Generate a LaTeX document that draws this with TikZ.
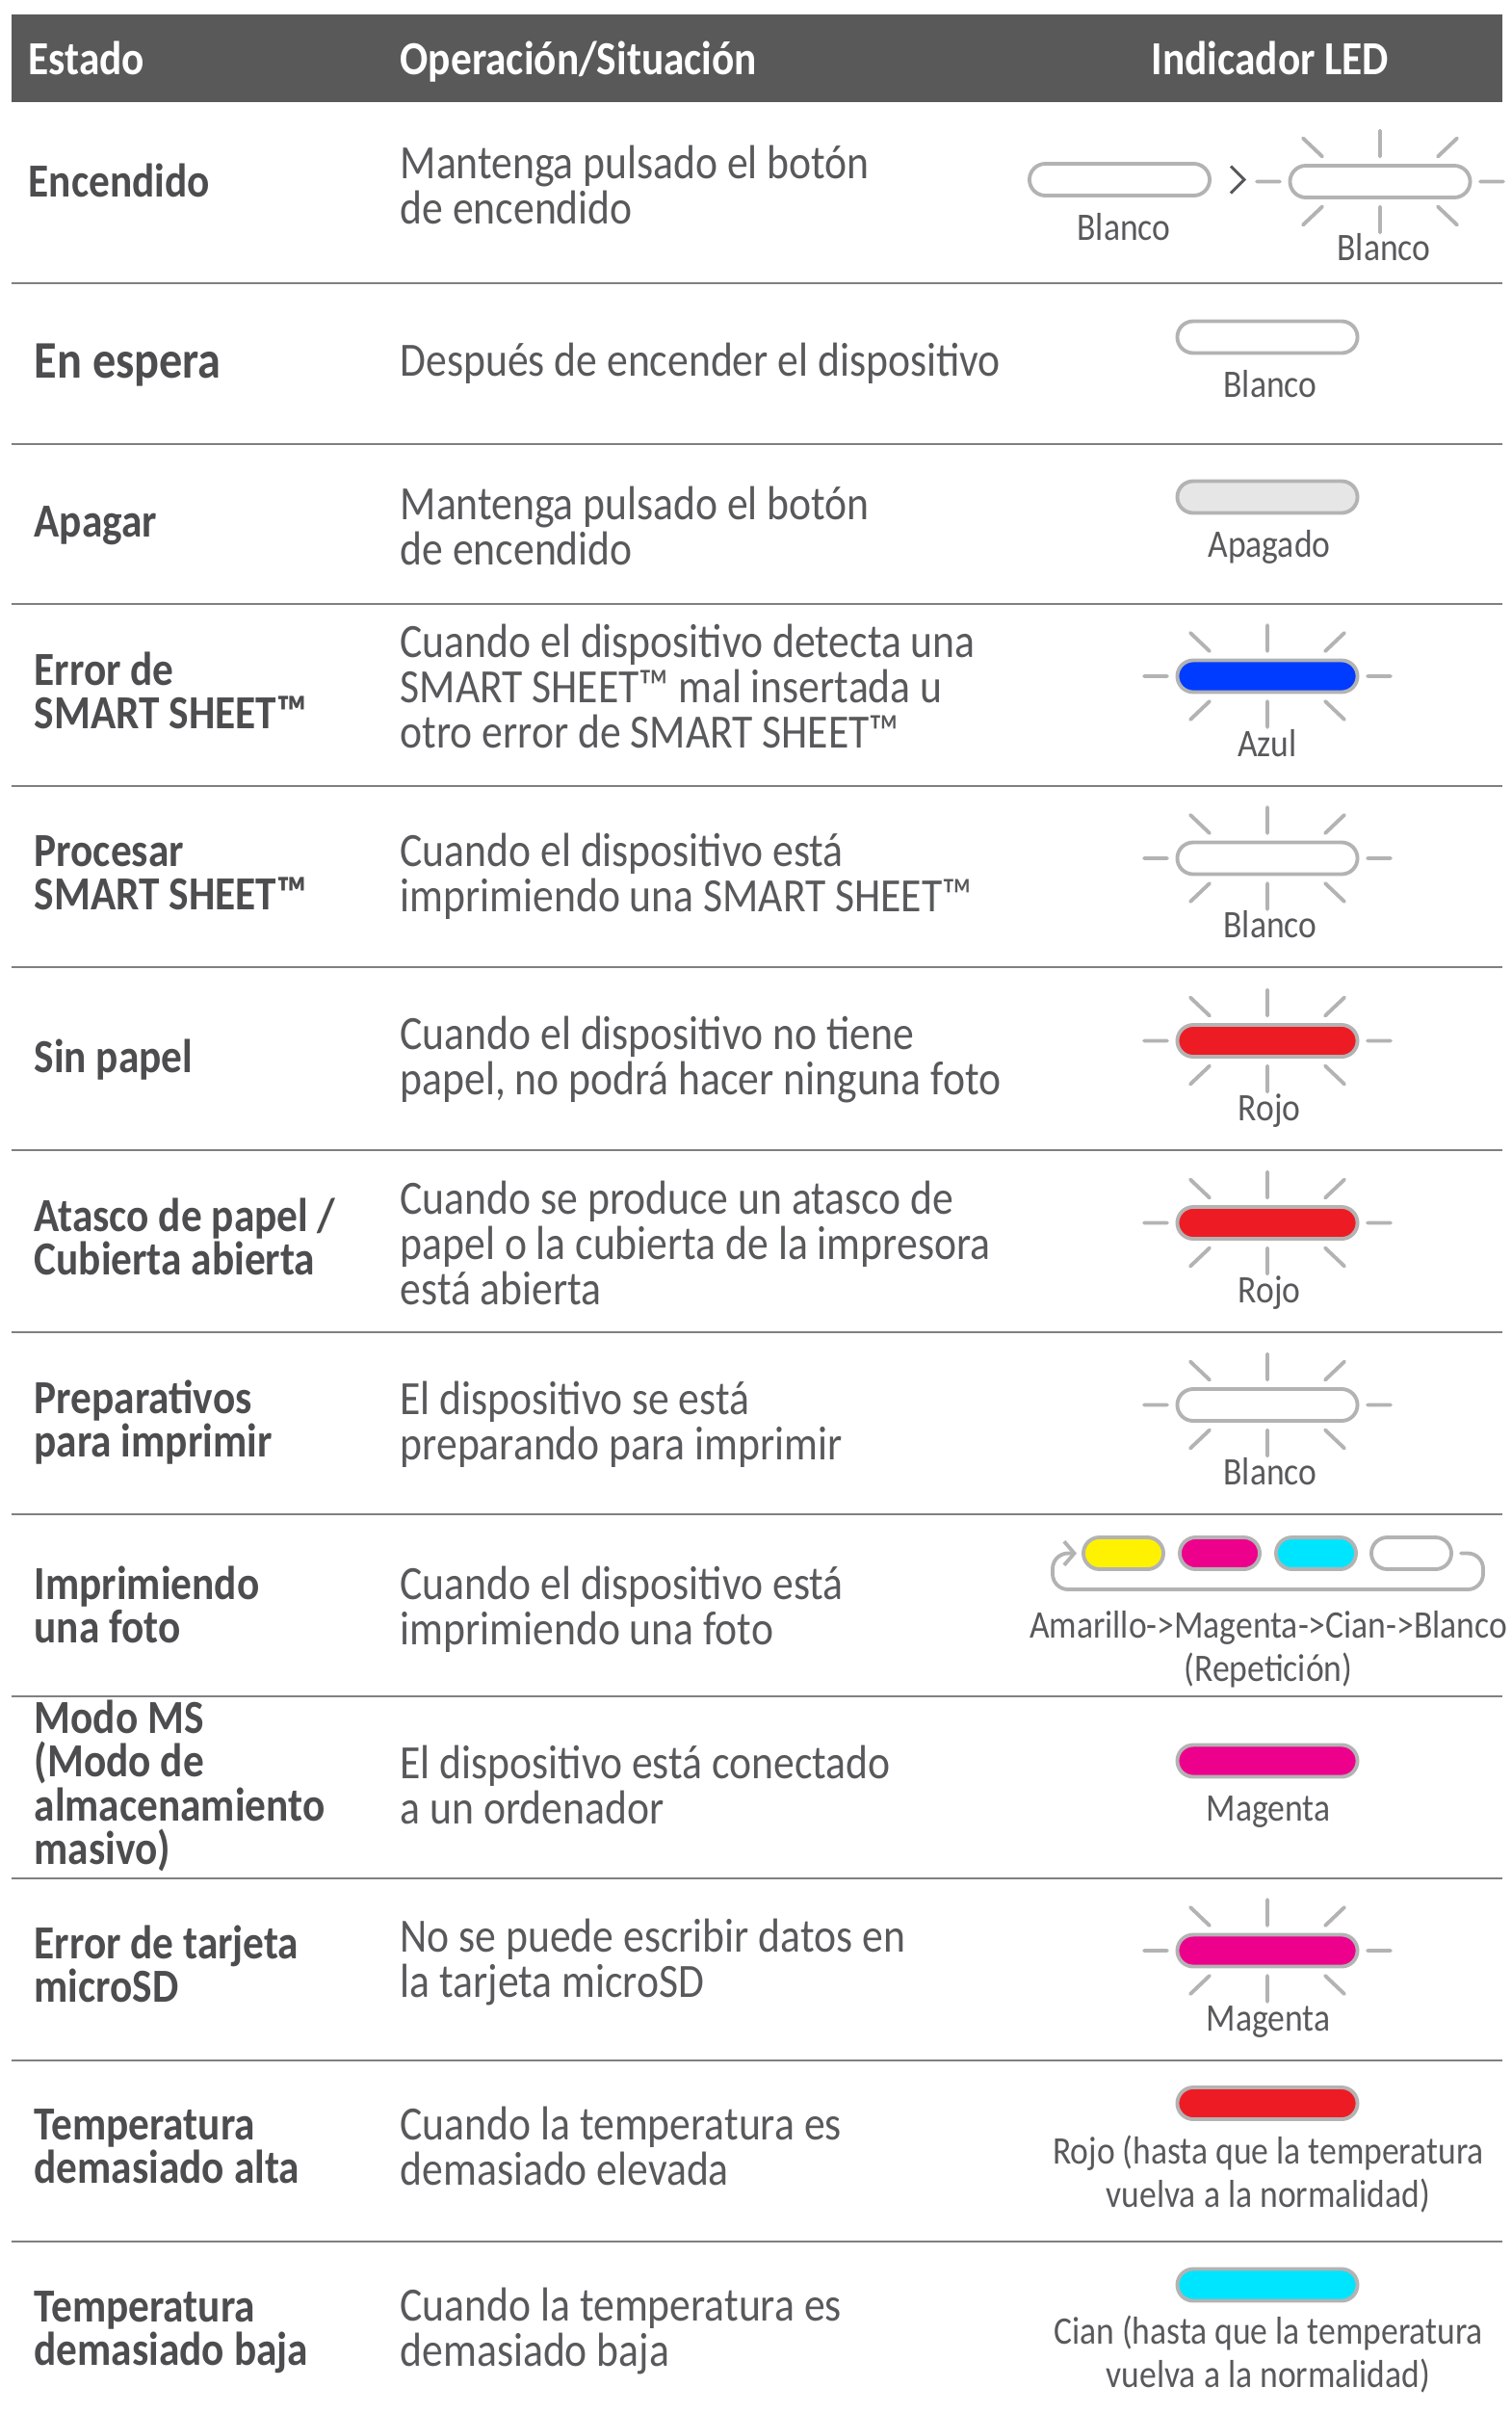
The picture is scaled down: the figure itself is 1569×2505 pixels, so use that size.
\documentclass[tikz,border=0pt]{standalone}
\usepackage{fontspec}
\setmainfont{Carlito}[FakeStretch=0.88]
\usetikzlibrary{arrows.meta}
\definecolor{hdr}{HTML}{595959}
\definecolor{txt}{HTML}{58595B}
\definecolor{statetxt}{HTML}{4D4D4F}
\definecolor{rulegray}{HTML}{808080}
\definecolor{ledgray}{HTML}{B3B3B3}
\definecolor{ledblue}{HTML}{003CFF}
\definecolor{ledred}{HTML}{ED1C24}
\definecolor{ledmag}{HTML}{EC008C}
\definecolor{ledcyan}{HTML}{00E5FF}
\definecolor{ledyel}{HTML}{FFF200}
\definecolor{ledoff}{HTML}{E6E6E6}

\begin{document}
\begin{tikzpicture}[x=0.01cm, y=-0.01cm,
  head/.style={anchor=base west, inner sep=0, text=white, font=\fontsize{14}{13}\selectfont\bfseries},
  state/.style={anchor=base west, inner sep=0, align=left, text=statetxt, font=\fontsize{14}{12.8}\selectfont\bfseries},
  oper/.style={anchor=base west, inner sep=0, align=left, text=txt, font=\fontsize{14.1}{13.3}\selectfont},
  tag/.style={anchor=base, inner sep=0, align=center, text=txt, font=\fontsize{11.5}{12.8}\selectfont},
  sep/.style={rulegray, line width=0.7pt},
  pill/.style={draw=ledgray, fill=white, line width=1.1pt, rounded corners=0.165cm, minimum width=1.87cm, minimum height=0.33cm, inner sep=0},
  dot/.style={pill, minimum width=0.83cm},
  ray/.style={ledgray, line width=1.1pt, line cap=round},
  rays/.pic={
    \draw[ray] (-128,0) -- (-104,0) (104,0) -- (128,0)
      (0,-53) -- (0,-26) (0,26) -- (0,53)
      (-80,-45) -- (-60,-26) (80,-45) -- (60,-26)
      (-80,45) -- (-60,26) (80,45) -- (60,26);
  }]
\useasboundingbox (0,0) rectangle (1569,2505);

% header
\fill[hdr] (12,15) rectangle (1560,106);
\node[head] (hEstado) at (29,77) {Estado};
\node[head] (hOper) at (415,77) {Operación/Situación};
\node[head] (hLed) at (1195,77) {Indicador LED};

% rules between rows
\draw[sep] (12,294) -- (1560,294);
\draw[sep] (12,461) -- (1560,461);
\draw[sep] (12,627) -- (1560,627);
\draw[sep] (12,816) -- (1560,816);
\draw[sep] (12,1004) -- (1560,1004);
\draw[sep] (12,1194) -- (1560,1194);
\draw[sep] (12,1383) -- (1560,1383);
\draw[sep] (12,1572) -- (1560,1572);
\draw[sep] (12,1761) -- (1560,1761);
\draw[sep] (12,1950) -- (1560,1950);
\draw[sep] (12,2139) -- (1560,2139);
\draw[sep] (12,2327) -- (1560,2327);

% Encendido (multi-line nodes sit on their last baseline)
\node[state] (s1) at (29,204) {Encendido};
\node[oper] (o1) at (415,232) {Mantenga pulsado el botón\\de encendido};
\node[pill] (p1a) at (1162.5,186.5) {};
\node[tag] (t1a) at (1167,249) {Blanco};
\draw[txt, line width=0.9pt] (p1a.east) ++(20,-14) -- ++(14,14) -- ++(-14,14);
\pic at (1433,188.5) {rays};
\node[pill] (p1b) at (1433,188.5) {};
\node[tag] (t1b) at (1437,270) {Blanco};

% En espera
\node[state] (s2) at (35,392) {\fontsize{15.6}{15}\selectfont En espera};
\node[oper] (o2) at (415,390) {Después de encender el dispositivo};
\node[pill] (p2) at (1316,350) {};
\node[tag] (t2) at (1319,412) {Blanco};

% Apagar
\node[state] (s3) at (35,557) {Apagar};
\node[oper] (o3) at (415,586) {Mantenga pulsado el botón\\de encendido};
\node[pill, fill=ledoff] (p3) at (1316,516) {};
\node[tag] (t3) at (1318,578) {Apagado};

% Error de SMART SHEET
\node[state] (s4) at (35,756) {Error de\\SMART SHEET™};
\node[oper] (o4) at (415,776) {Cuando el dispositivo detecta una\\SMART SHEET™ mal insertada u\\otro error de SMART SHEET™};
\pic at (1316,702) {rays};
\node[pill, fill=ledblue] (p4) at (1316,702) {};
\node[tag] (t4) at (1316,785) {Azul};

% Procesar SMART SHEET
\node[state] (s5) at (35,944) {Procesar\\SMART SHEET™};
\node[oper] (o5) at (415,946) {Cuando el dispositivo está\\imprimiendo una SMART SHEET™};
\pic at (1316,891) {rays};
\node[pill] (p5) at (1316,891) {};
\node[tag] (t5) at (1319,973) {Blanco};

% Sin papel
\node[state] (s6) at (35,1113) {Sin papel};
\node[oper] (o6) at (415,1136) {Cuando el dispositivo no tiene\\papel, no podrá hacer ninguna foto};
\pic at (1316,1080.5) {rays};
\node[pill, fill=ledred] (p6) at (1316,1080.5) {};
\node[tag] (t6) at (1318,1163) {Rojo};

% Atasco
\node[state] (s7) at (35,1323) {Atasco de papel /\\Cubierta abierta};
\node[oper] (o7) at (415,1354) {Cuando se produce un atasco de\\papel o la cubierta de la impresora\\está abierta};
\pic at (1316,1269.5) {rays};
\node[pill, fill=ledred] (p7) at (1316,1269.5) {};
\node[tag] (t7) at (1318,1352) {Rojo};

% Preparativos
\node[state] (s8) at (35,1512) {Preparativos\\para imprimir};
\node[oper] (o8) at (415,1515) {El dispositivo se está\\preparando para imprimir};
\pic at (1316,1458.5) {rays};
\node[pill] (p8) at (1316,1458.5) {};
\node[tag] (t8) at (1319,1541) {Blanco};

% Imprimiendo una foto
\node[state] (s9) at (35,1705) {Imprimiendo\\una foto};
\node[oper] (o9) at (415,1707) {Cuando el dispositivo está\\imprimiendo una foto};
\node[dot, fill=ledyel] (c1) at (1166.5,1612.5) {};
\node[dot, fill=ledmag] (c2) at (1266.5,1612.5) {};
\node[dot, fill=ledcyan] (c3) at (1366.5,1612.5) {};
\node[dot] (c4) at (1465.5,1612.5) {};
\draw[ray, rounded corners=0.16cm, -{Straight Barb[length=3pt, width=7pt]}]
  ([xshift=0.08cm]c4.east) -- (1540,1612.5) -- (1540,1650) -- (1093,1650)
  -- (1093,1612.5) -- ([xshift=-0.05cm]c1.west);
\node[tag] (t9) at (1317,1745) {Amarillo->Magenta->Cian->Blanco\\(Repetición)};

% Modo MS
\node[state] (s10) at (35,1935) {Modo MS\\(Modo de\\almacenamiento\\masivo)};
\node[oper] (o10) at (415,1893) {El dispositivo está conectado\\a un ordenador};
\node[pill, fill=ledmag] (p10) at (1316,1828) {};
\node[tag] (t10) at (1317,1890) {Magenta};

% Error de tarjeta
\node[state] (s11) at (35,2078) {Error de tarjeta\\microSD};
\node[oper] (o11) at (415,2073) {No se puede escribir datos en\\la tarjeta microSD};
\pic at (1316,2025) {rays};
\node[pill, fill=ledmag] (p11) at (1316,2025) {};
\node[tag] (t11) at (1317,2108) {Magenta};

% Temperatura alta
\node[state] (s12) at (35,2266) {Temperatura\\demasiado alta};
\node[oper] (o12) at (415,2268) {Cuando la temperatura es\\demasiado elevada};
\node[pill, fill=ledred] (p12) at (1316,2183.5) {};
\node[tag] (t12) at (1317,2291) {Rojo (hasta que la temperatura\\vuelva a la normalidad)};

% Temperatura baja
\node[state] (s13) at (35,2455) {Temperatura\\demasiado baja};
\node[oper] (o13) at (415,2456) {Cuando la temperatura es\\demasiado baja};
\node[pill, fill=ledcyan] (p13) at (1316,2372) {};
\node[tag] (t13) at (1317,2478) {Cian (hasta que la temperatura\\vuelva a la normalidad)};
\end{tikzpicture}
\end{document}
